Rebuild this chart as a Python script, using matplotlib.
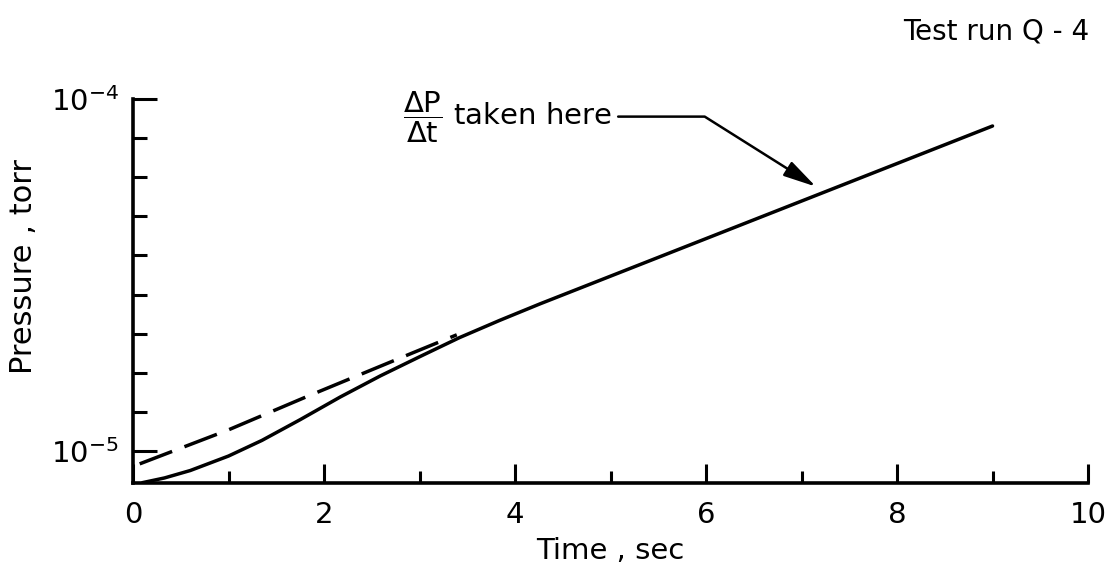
import matplotlib.pyplot as plt
from matplotlib.ticker import FixedLocator, FixedFormatter

# Data (pressure in units of 1e-5 torr)
time_solid = [0.1, 0.33, 0.6, 1.0, 1.35, 1.75, 2.17, 2.59, 3.01, 3.42, 3.84, 4.26, 9.0]
pressure_solid = [0.19, 0.31, 0.50, 0.87, 1.27, 1.80, 2.38, 2.92, 3.42, 3.90, 4.34, 4.76, 9.31]
time_dashed = [0.07, 1.0, 1.82, 2.93, 3.39]
pressure_dashed = [0.67, 1.54, 2.39, 3.51, 3.97]

x_major = [0, 2, 4, 6, 8, 10]
x_minor = [1, 3, 5, 7, 9]
y_major = [1e-5, 1e-4]
y_minor = [k * 1e-5 for k in range(2, 10)]
y_labels = [r"$\mathregular{10^{-5}}$", r"$\mathregular{10^{-4}}$"]

scale = 1e-5
plt.rcParams["font.family"] = ["DejaVu Sans"]
plt.rcParams["mathtext.fontset"] = "dejavusans"

fig = plt.figure(figsize=(11.14, 5.74), dpi=100)
ax = fig.add_axes([0.1194, 0.1585, 0.8573, 0.669])

ax.plot(time_solid, [p * scale for p in pressure_solid], color="black", lw=2.5,
        solid_capstyle="round", solid_joinstyle="round")
ax.plot(time_dashed, [p * scale for p in pressure_dashed], color="black", lw=2.5,
        dashes=(10, 3.8))

ax.set_xlim(0, 10)
ax.set_ylim(0.18 * scale, 10 * scale)

for side in ["top", "right"]:
    ax.spines[side].set_visible(False)
for side in ["left", "bottom"]:
    ax.spines[side].set_linewidth(2.6)

ax.xaxis.set_major_locator(FixedLocator(x_major))
ax.xaxis.set_minor_locator(FixedLocator(x_minor))
ax.yaxis.set_major_locator(FixedLocator(y_major))
ax.yaxis.set_major_formatter(FixedFormatter(y_labels))
ax.yaxis.set_minor_locator(FixedLocator(y_minor))
ax.set_xticklabels([str(v) for v in x_major])

ax.tick_params(axis="both", which="both", direction="in", width=2.2, labelsize=21)
ax.tick_params(axis="x", which="major", length=14, pad=13)
ax.tick_params(axis="x", which="minor", length=9)
ax.tick_params(axis="y", which="major", length=17, pad=10)
ax.tick_params(axis="y", which="minor", length=10)

ax.set_xlabel("Time , sec", fontsize=21, labelpad=6)
ax.set_ylabel("Pressure , torr", fontsize=22)
ax.yaxis.set_label_coords(-0.1, 0.565)

fig.text(0.978, 0.945, "Test run Q - 4", fontsize=20, ha="right", va="center")

ax.text(2.83, 9.52 * scale, r"$\dfrac{\mathrm{\Delta P}}{\mathrm{\Delta t}}$ taken here",
        fontsize=21, ha="left", va="center")
ax.annotate("", xy=(7.15, 7.76 * scale), xytext=(5.08, 9.55 * scale),
            arrowprops=dict(arrowstyle="-|>,head_length=1.0,head_width=0.25",
                            connectionstyle="angle,angleA=0,angleB=147.8,rad=0",
                            color="black", lw=1.8, shrinkA=0, shrinkB=0,
                            mutation_scale=20))

fig.savefig("out.png", dpi=100)
